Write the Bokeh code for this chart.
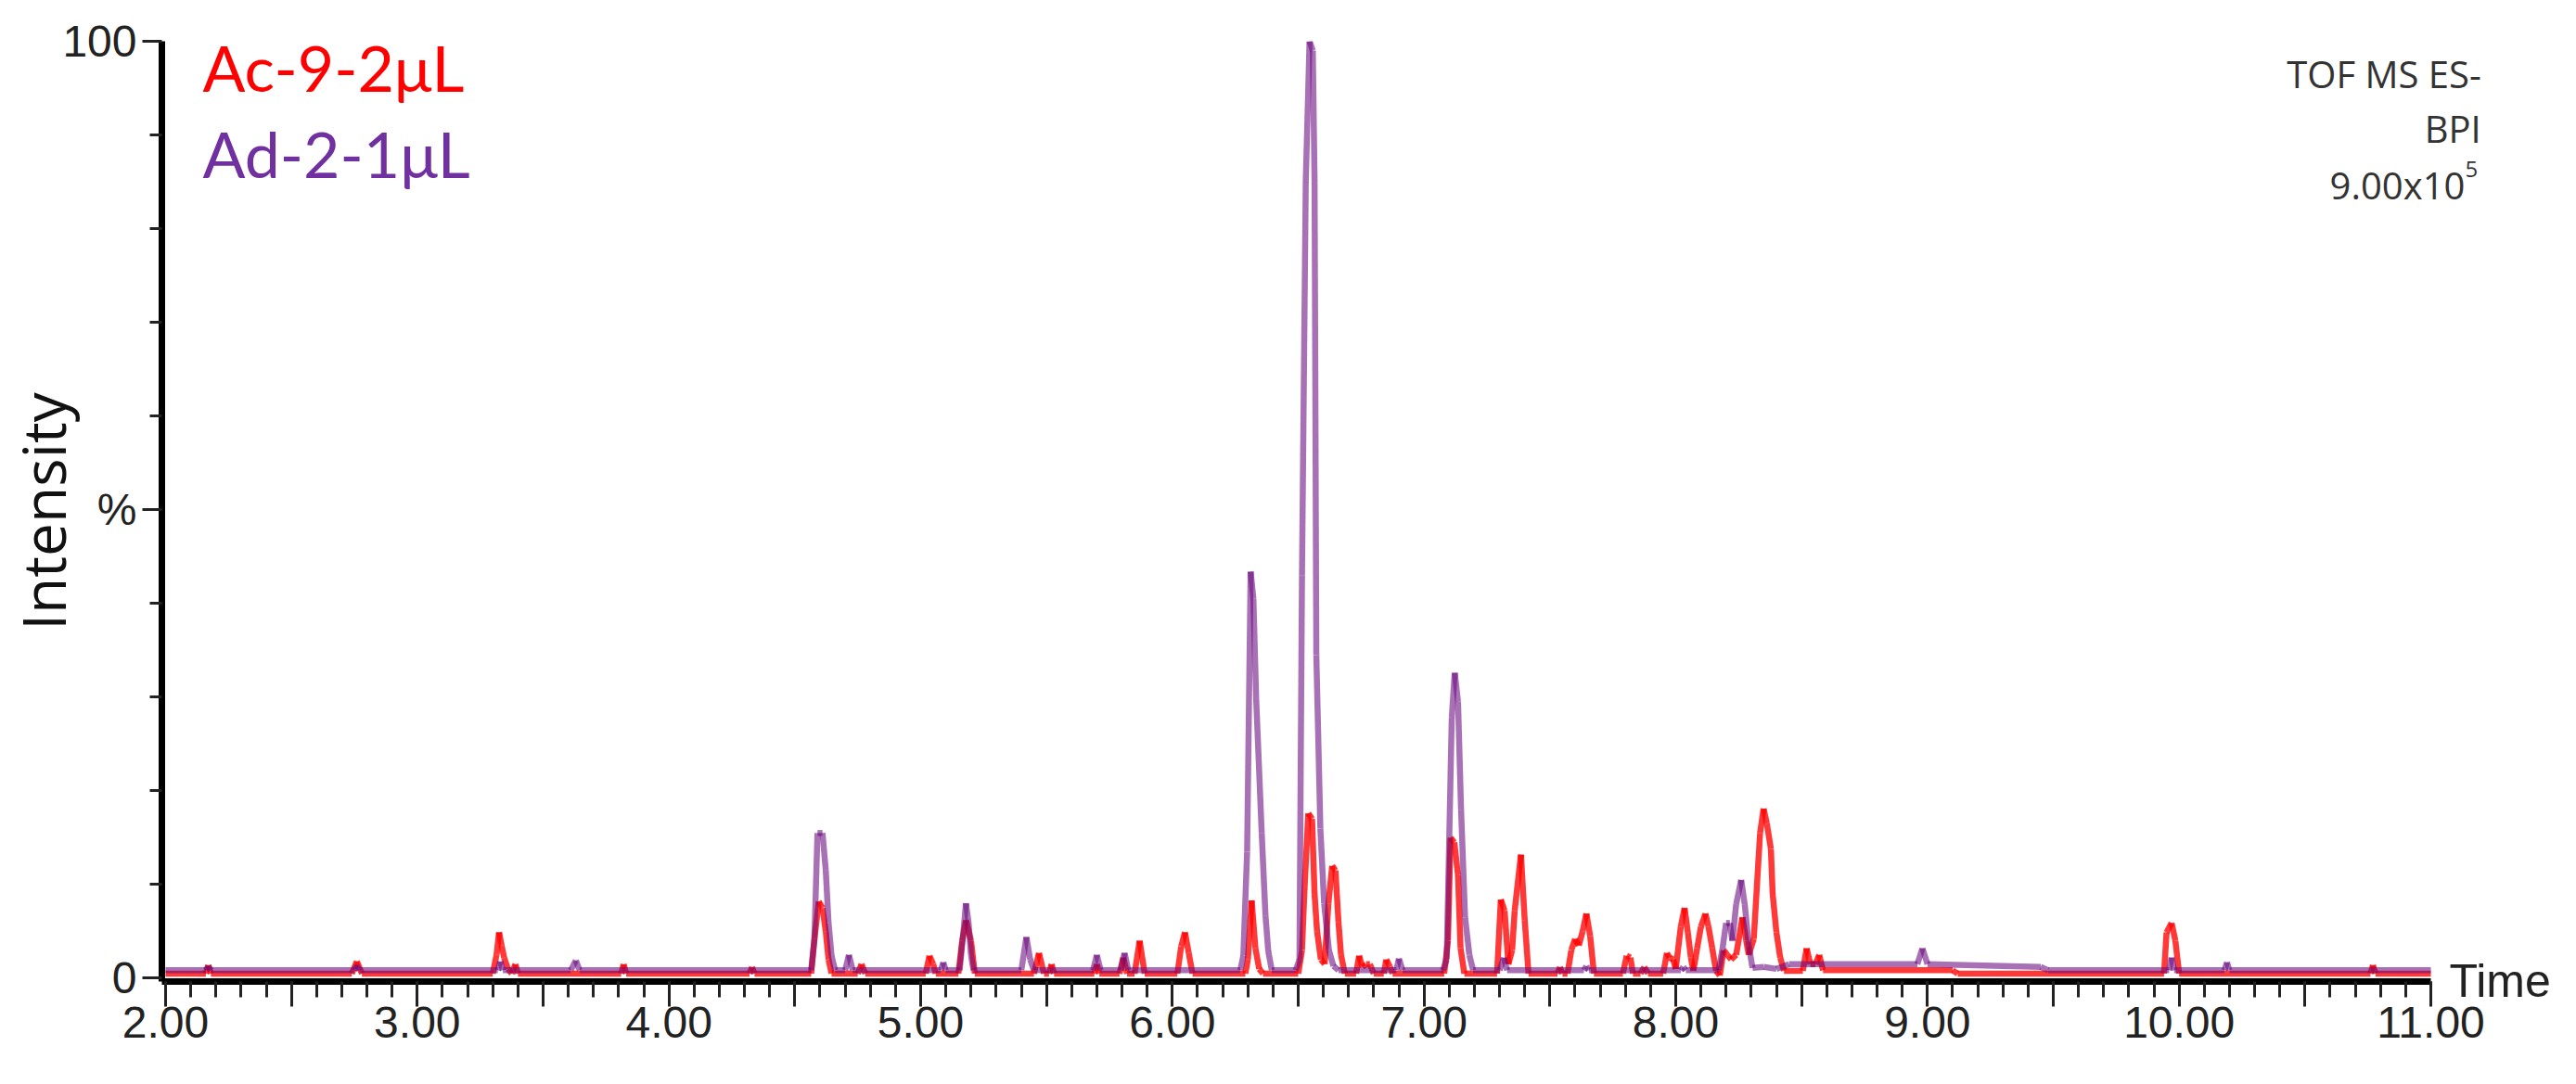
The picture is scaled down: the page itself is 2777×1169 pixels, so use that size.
import numpy as np
from bokeh.plotting import figure
from bokeh.models import (Range1d, FixedTicker, CustomJSTickFormatter, Label,
                          ColumnDataSource, LinearAxis)
from bokeh.embed import file_html
from bokeh.resources import INLINE

# ---------------- data ----------------
series_names = ["Ac-9-2\u03bcL", "Ad-2-1\u03bcL"]

# Ac-9-2uL (red trace): retention time (min) and relative intensity (%)
red_time = [2.00,
            2.16, 2.17, 2.18,
            2.74, 2.76, 2.78,
            3.30, 3.315, 3.325, 3.335, 3.345, 3.36, 3.375, 3.39, 3.40,
            3.81, 3.82, 3.83,
            4.32, 4.33, 4.34,
            4.565, 4.578, 4.595, 4.61, 4.623, 4.634, 4.646,
            4.75, 4.765, 4.78,
            5.02, 5.035, 5.05, 5.06,
            5.15, 5.165, 5.18, 5.20, 5.215,
            5.45, 5.47, 5.49,
            5.51, 5.52, 5.53,
            5.69, 5.70, 5.71,
            5.79, 5.805, 5.82,
            5.85, 5.87, 5.89,
            6.02, 6.035, 6.05, 6.065, 6.08,
            6.29, 6.30, 6.315, 6.33, 6.345, 6.36,
            6.50, 6.515, 6.525, 6.54, 6.555, 6.565, 6.575, 6.59, 6.605, 6.62, 6.635, 6.648, 6.66, 6.67, 6.685,
            6.73, 6.742, 6.755, 6.77, 6.785, 6.80,
            6.84, 6.85, 6.865, 6.875,
            7.08, 7.095, 7.105, 7.12, 7.135, 7.145, 7.16,
            7.29, 7.305, 7.32, 7.335, 7.35, 7.36, 7.385, 7.40, 7.415,
            7.53, 7.54, 7.55,
            7.57, 7.585, 7.60, 7.615, 7.63, 7.645, 7.66, 7.675,
            7.79, 7.805, 7.82, 7.83,
            7.86, 7.875, 7.89,
            7.95, 7.965, 7.975, 7.99, 8.00, 8.02, 8.035, 8.048, 8.06, 8.07, 8.085, 8.10, 8.118, 8.13,
            8.145, 8.16, 8.175, 8.19, 8.205, 8.22, 8.24, 8.265, 8.28, 8.29, 8.31, 8.335, 8.349, 8.362,
            8.378, 8.385, 8.40, 8.415, 8.43,
            8.505, 8.52, 8.535, 8.555, 8.57, 8.585,
            9.10, 9.12,
            9.94, 9.95, 9.97, 9.985, 10.0,
            10.76, 10.77, 10.78,
            11.0]
red_int = [0.5,
           0.5, 1.4, 0.5,
           0.5, 1.8, 0.5,
           0.5, 2.5, 4.9, 3.5, 2.2, 1.0, 0.5, 1.5, 0.5,
           0.5, 1.5, 0.5,
           0.5, 1.2, 0.5,
           0.5, 4.2, 8.2, 7.5, 5.0, 2.0, 0.5,
           0.5, 1.5, 0.5,
           0.5, 2.4, 1.5, 0.5,
           0.5, 4.0, 6.2, 4.0, 0.5,
           0.5, 2.7, 0.5,
           0.5, 1.5, 0.5,
           0.5, 1.5, 0.5,
           0.5, 2.2, 0.5,
           0.5, 4.0, 0.5,
           0.5, 3.4, 4.9, 2.7, 0.5,
           0.5, 2.0, 8.3, 3.2, 1.0, 0.5,
           0.5, 3.0, 9.5, 17.6, 17.0, 9.0, 5.0, 2.0, 1.5, 8.0, 12.0, 11.5, 6.0, 2.5, 0.5,
           0.5, 2.4, 1.2, 1.5, 1.5, 0.5,
           0.5, 2.0, 1.2, 0.5,
           0.5, 4.0, 15.0, 14.5, 11.0, 3.2, 0.5,
           0.5, 8.4, 7.2, 1.5, 3.0, 7.2, 13.2, 6.2, 0.5,
           0.5, 1.2, 0.5,
           0.5, 3.0, 4.2, 3.5, 5.0, 6.9, 4.5, 0.5,
           0.5, 2.4, 2.2, 0.5,
           0.5, 1.2, 0.5,
           0.5, 2.7, 2.2, 2.0, 1.0, 5.5, 7.5, 4.9, 2.2, 0.8, 3.2, 5.5, 6.9, 5.5,
           3.2, 0.8, 0.3, 3.0, 2.5, 2.0, 2.5, 6.5, 4.0, 2.5, 4.2, 15.5, 18.1, 16.5,
           13.8, 9.0, 4.9, 2.2, 0.8,
           0.8, 3.2, 1.5, 1.5, 2.5, 0.85,
           0.85, 0.5,
           0.5, 4.9, 5.9, 4.0, 0.5,
           0.5, 1.4, 0.5,
           0.5]

# Ad-2-1uL (purple trace)
purple_time = [2.00,
               2.16, 2.17, 2.18,
               2.75, 2.76, 2.77,
               3.32, 3.33, 3.34,
               3.61, 3.63, 3.645,
               4.565, 4.578, 4.59, 4.61, 4.623, 4.634, 4.646, 4.66,
               4.70, 4.715, 4.73,
               5.08, 5.09, 5.10,
               5.155, 5.17, 5.18, 5.19, 5.20, 5.21,
               5.40, 5.42, 5.435, 5.45,
               5.685, 5.70, 5.715,
               5.795, 5.81, 5.825,
               6.27, 6.282, 6.297, 6.311, 6.322, 6.333, 6.355, 6.37, 6.381, 6.395,
               6.49, 6.505, 6.515, 6.53, 6.545, 6.558, 6.565, 6.572, 6.588, 6.603, 6.622, 6.64, 6.66,
               6.89, 6.90, 6.915,
               7.075, 7.09, 7.10, 7.11, 7.122, 7.135, 7.147, 7.163, 7.18, 7.195,
               7.30, 7.317, 7.33,
               7.635, 7.645, 7.655,
               8.02, 8.03, 8.04,
               8.17, 8.185, 8.20, 8.215, 8.225, 8.24, 8.26, 8.274, 8.29, 8.305,
               8.35, 8.40, 8.45, 8.96, 8.98, 9.00, 9.45, 9.48,
               9.96, 9.97, 9.98,
               10.18, 10.19, 10.20,
               11.0]
purple_int = [0.85,
              0.85, 1.3, 0.85,
              0.85, 1.4, 0.85,
              0.85, 1.8, 0.85,
              0.85, 1.9, 0.85,
              0.85, 4.2, 15.5, 15.5, 11.5, 5.9, 2.4, 0.85,
              0.85, 2.5, 0.85,
              0.85, 1.7, 0.85,
              0.85, 5.0, 8.0, 6.0, 2.5, 0.85,
              0.85, 4.4, 2.0, 0.85,
              0.85, 2.5, 0.85,
              0.85, 2.7, 0.85,
              0.85, 2.4, 13.5, 43.4, 40.5, 29.8, 15.5, 6.7, 2.9, 0.85,
              0.85, 2.0, 43.0, 85.0, 100.0, 99.0, 85.0, 34.5, 16.0, 8.0, 3.0, 1.3, 0.85,
              0.85, 2.1, 0.85,
              0.85, 2.0, 14.8, 27.8, 32.6, 29.5, 18.0, 6.5, 2.5, 0.85,
              0.85, 2.2, 0.85,
              0.85, 1.3, 0.85,
              0.85, 1.2, 0.85,
              0.85, 3.0, 5.9, 5.9, 4.0, 7.9, 10.5, 7.9, 3.5, 1.1,
              1.2, 1.0, 1.5, 1.5, 3.2, 1.5, 1.2, 0.85,
              0.85, 2.2, 0.85,
              0.85, 1.7, 0.85,
              0.85]

x_major_ticks = [2.0, 2.5, 3.0, 3.5, 4.0, 4.5, 5.0, 5.5, 6.0, 6.5, 7.0, 7.5, 8.0, 8.5, 9.0, 9.5, 10.0, 10.5, 11.0]
x_minor_ticks = [round(v, 1) for v in np.arange(2.0, 11.001, 0.1)]
y_major_ticks = [0, 50, 100]
y_minor_ticks = [10, 20, 30, 40, 60, 70, 80, 90]
info_lines = ["TOF MS ES-", "BPI", "9.00x10", "5"]
x_title = "Time"
y_title = "Intensity"

# ---------------- figure ----------------
X0, X1 = 1.98527, 11.21
p = figure(width=2761, height=1153, output_backend="svg", toolbar_location=None,
           x_range=Range1d(X0, X1), y_range=Range1d(-0.35, 100),
           min_border_left=172, min_border_right=84, min_border_top=44, min_border_bottom=95)
p.outline_line_color = None
p.grid.visible = False
p.background_fill_color = "white"
p.border_fill_color = "white"


def seg_source(t, v):
    t = np.asarray(t, dtype=float)
    v = np.asarray(v, dtype=float)
    return ColumnDataSource(dict(x0=t[:-1], y0=v[:-1], x1=t[1:], y1=v[1:]))


p.segment(x0="x0", y0="y0", x1="x1", y1="y1", source=seg_source(red_time, red_int),
          line_color="#FF0000", line_alpha=0.78, line_width=6.5)
p.segment(x0="x0", y0="y0", x1="x1", y1="y1", source=seg_source(purple_time, purple_int),
          line_color="#6A0A80", line_alpha=0.58, line_width=6.5)

# ---------------- axes ----------------
xa = p.xaxis[0]
xa.ticker = FixedTicker(ticks=x_major_ticks, minor_ticks=x_minor_ticks)
xa.formatter = CustomJSTickFormatter(code="return (Math.abs(tick - Math.round(tick)) < 1e-6) ? tick.toFixed(2) : '';")
xa.bounds = (X0, 11.0)
ya = p.yaxis[0]
ya.ticker = FixedTicker(ticks=y_major_ticks, minor_ticks=y_minor_ticks)
ya.formatter = CustomJSTickFormatter(code="return (Math.abs(tick - 50) < 1e-6) ? '%' : tick.toFixed(0);")

for ax, tout, mout, stand in ((xa, 27, 17, 0), (ya, 21, 13, 6)):
    ax.axis_line_color = "black"
    ax.axis_line_width = 7
    ax.major_tick_line_color = "#222222"
    ax.minor_tick_line_color = "#222222"
    ax.major_tick_line_width = 3
    ax.minor_tick_line_width = 3
    ax.major_tick_in = 0
    ax.minor_tick_in = 0
    ax.major_tick_out = tout
    ax.minor_tick_out = mout
    ax.major_label_text_font = "Liberation Sans"
    ax.major_label_text_font_size = "48px"
    ax.major_label_text_color = "#222222"
    ax.major_label_standoff = stand

ya.axis_label = y_title
ya.axis_label_text_font = "Open Sans"
ya.axis_label_text_font_size = "64px"
ya.axis_label_text_font_style = "normal"
ya.axis_label_text_color = "#111111"
ya.axis_label_standoff = -26

# "Time" drawn as the single label of a bare axis on the right
time_axis = LinearAxis(ticker=FixedTicker(ticks=[-0.3], minor_ticks=[]),
                       formatter=CustomJSTickFormatter(code="return '%s';" % x_title),
                       axis_line_color=None, major_tick_line_color=None,
                       minor_tick_line_color=None, major_tick_out=0, major_tick_in=0,
                       major_label_standoff=-37, major_label_text_font="Liberation Sans",
                       major_label_text_font_size="50px", major_label_text_color="#222222")
p.add_layout(time_axis, "right")

# ---------------- texts inside the frame ----------------
p.add_layout(Label(x=2.147, y=97.2, text=series_names[0], text_color="#FF0000",
                   text_font="Lato", text_font_size="68px", text_align="left",
                   text_baseline="alphabetic"))
p.add_layout(Label(x=2.147, y=88.0, text=series_names[1], text_color="#7030A0",
                   text_font="Lato", text_font_size="68px", text_align="left",
                   text_baseline="alphabetic"))

p.add_layout(Label(x=11.2, y=96.5, text=info_lines[0], text_color="#333333",
                   text_font="Open Sans", text_font_size="40px", text_align="right",
                   text_baseline="alphabetic"))
p.add_layout(Label(x=11.2, y=90.65, text=info_lines[1], text_color="#333333",
                   text_font="Open Sans", text_font_size="40px", text_align="right",
                   text_baseline="alphabetic"))
p.add_layout(Label(x=11.136, y=84.62, text=info_lines[2], text_color="#333333",
                   text_font="Open Sans", text_font_size="40px", text_align="right",
                   text_baseline="alphabetic"))
p.add_layout(Label(x=11.136, y=86.3, text=info_lines[3], text_color="#333333",
                   text_font="Open Sans", text_font_size="24px", text_align="left",
                   text_baseline="alphabetic"))

open("out.html", "w").write(file_html(p, INLINE))
